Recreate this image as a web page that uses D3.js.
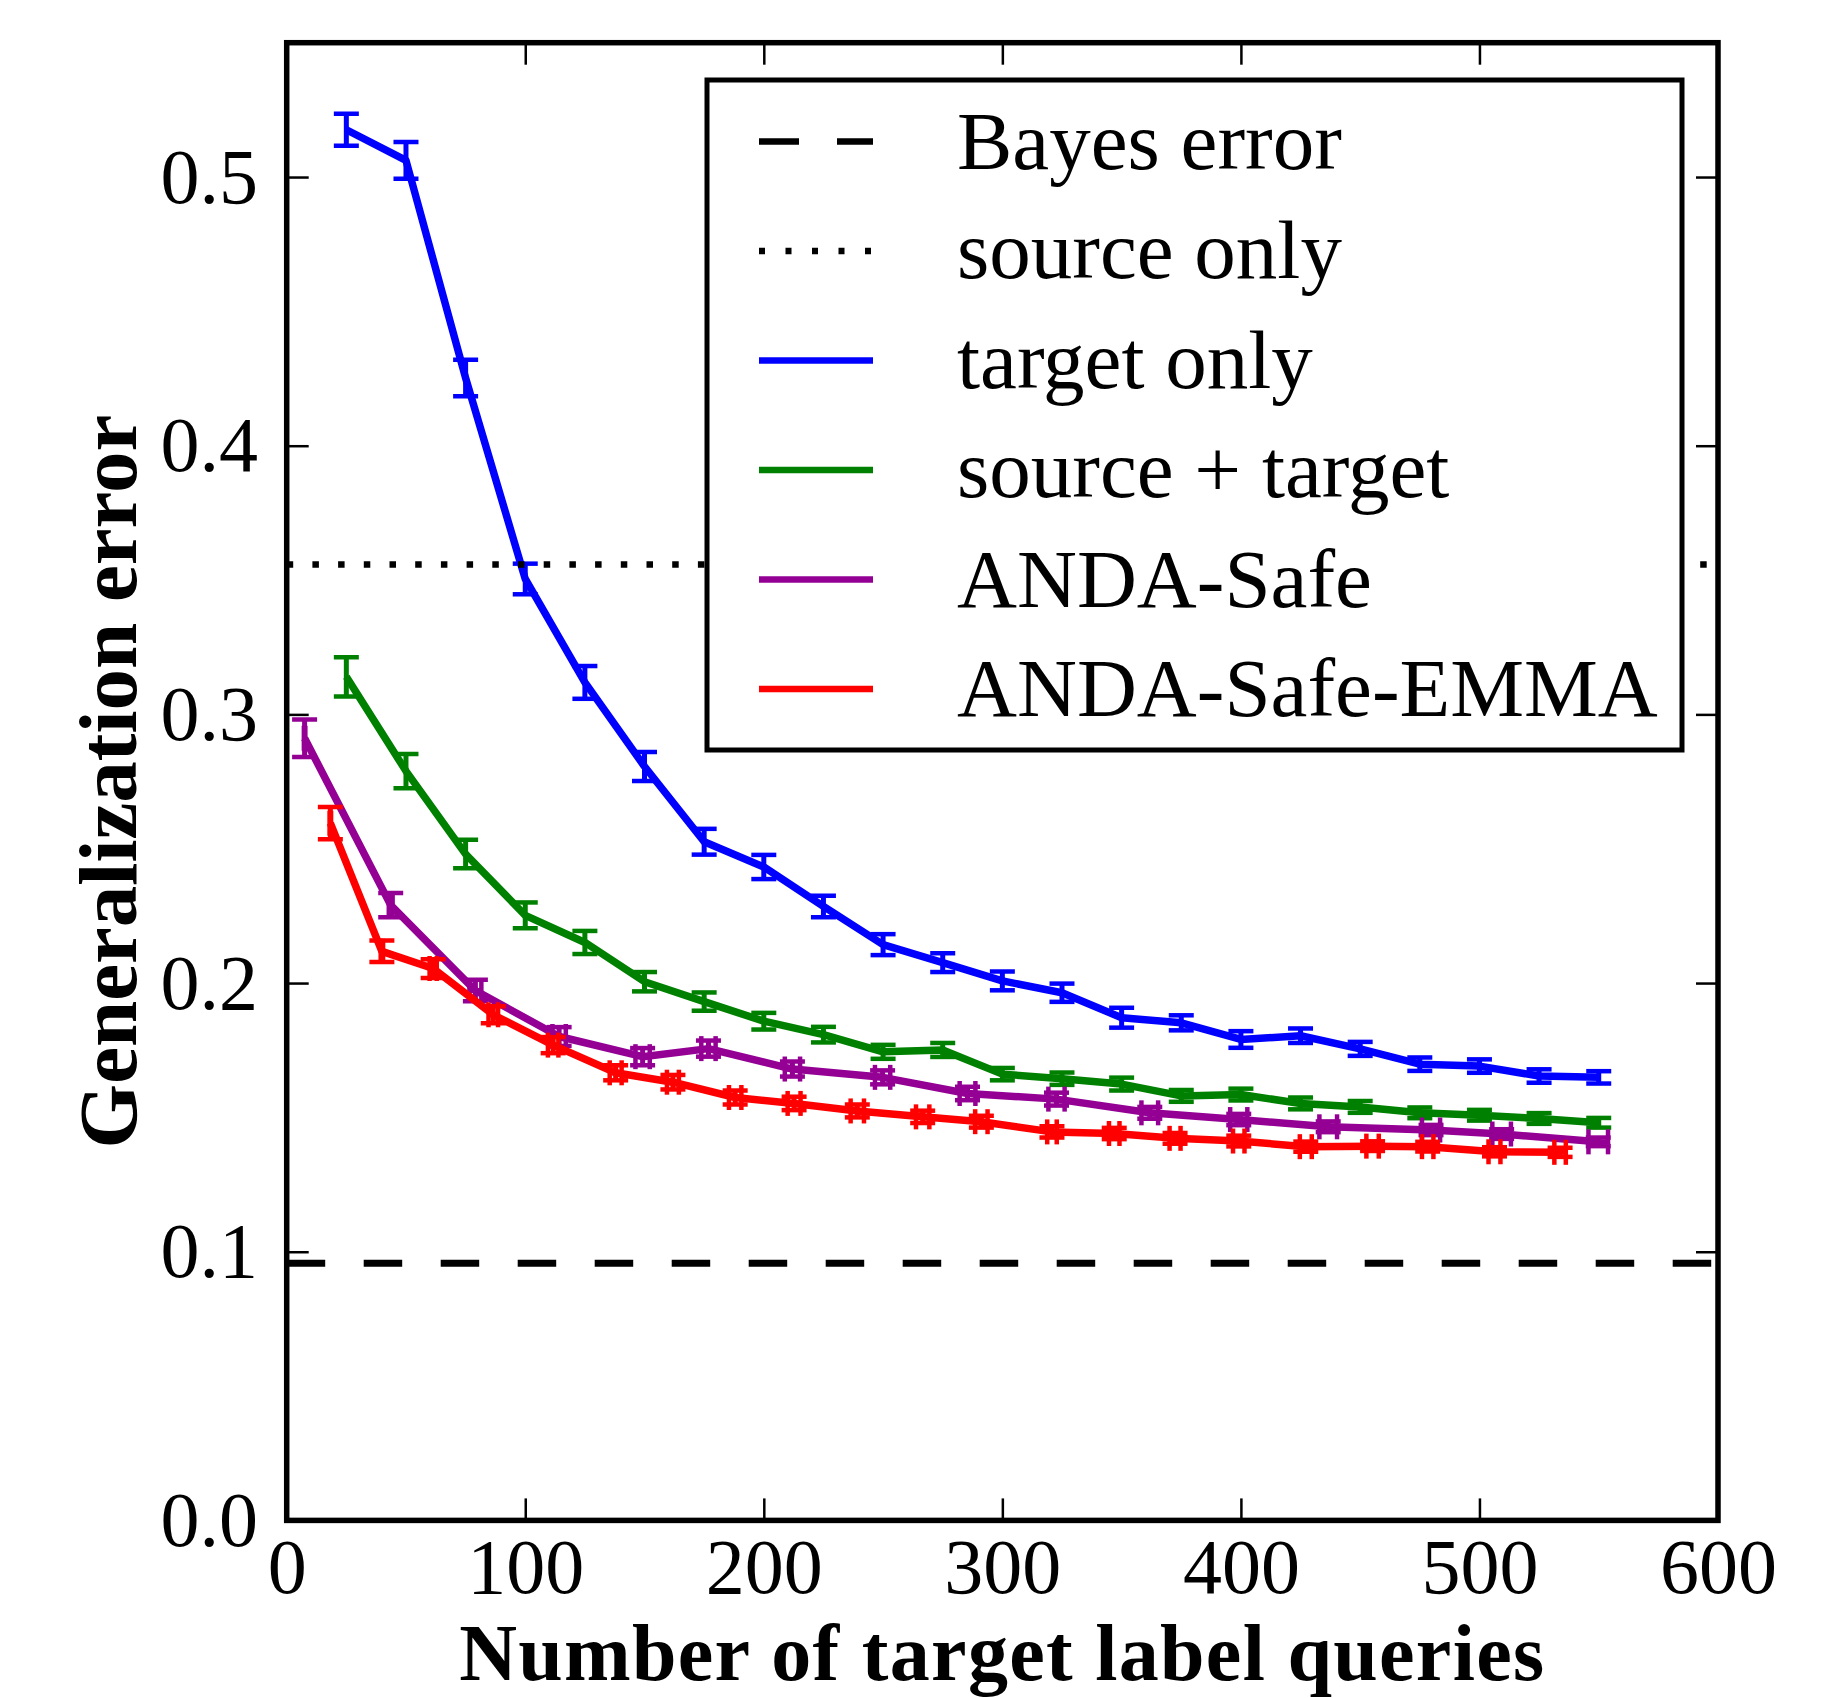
<!DOCTYPE html>
<html>
<head>
<meta charset="utf-8">
<script src="https://cdn.jsdelivr.net/npm/d3@7"></script>
<style>
  body { margin: 0; background: #fff; }
  text { font-family: "Liberation Serif", "DejaVu Serif", serif; fill: #000; }
</style>
</head>
<body>
<script>
// ---- data ----
var targetX   = [25,50,75,100,125,150,175,200,225,250,275,300,325,350,375,400,425,450,475,500,525,550];
var targetY   = [0.5176,0.5062,0.4252,0.3504,0.3119,0.2806,0.2526,0.2432,0.2285,0.2143,0.2076,0.2008,0.1964,0.1871,0.1852,0.1790,0.1804,0.1755,0.1698,0.1691,0.1654,0.1649];
var targetErr = [0.0060,0.0068,0.0068,0.0057,0.0061,0.0054,0.0048,0.0045,0.0040,0.0039,0.0035,0.0035,0.0034,0.0037,0.0028,0.0031,0.0027,0.0026,0.0025,0.0025,0.0025,0.0023];

var comboX   = [25,50,75,100,125,150,175,200,225,250,275,300,325,350,375,400,425,450,475,500,525,550];
var comboY   = [0.3140,0.2789,0.2480,0.2252,0.2151,0.2005,0.1931,0.1858,0.1808,0.1744,0.1751,0.1661,0.1644,0.1624,0.1580,0.1585,0.1552,0.1539,0.1517,0.1508,0.1496,0.1480];
var comboErr = [0.0073,0.0064,0.0053,0.0048,0.0043,0.0036,0.0034,0.0031,0.0029,0.0026,0.0026,0.0023,0.0023,0.0024,0.0022,0.0022,0.0022,0.0022,0.0020,0.0020,0.0020,0.0018];

var safeX    = [7.5,43.6,79.1,114.2,149.2,176.8,212.0,249.8,285.4,322.7,361.8,399.1,436.6,479.7,509.3,549.8];
var safeY    = [0.2911,0.2290,0.1972,0.1801,0.1726,0.1756,0.1680,0.1649,0.1589,0.1568,0.1517,0.1492,0.1465,0.1453,0.1438,0.1409];
var safeXErr = [0.3,0.8,2.5,2.8,3.0,3.0,3.2,3.2,3.3,3.4,3.5,3.6,3.7,3.8,3.9,4.1];
var safeYErr = [0.0070,0.0045,0.0040,0.0035,0.0032,0.0030,0.0028,0.0026,0.0025,0.0024,0.0022,0.0021,0.0020,0.0019,0.0018,0.0016];

var emmaX    = [18.3,39.9,61.4,86.6,111.7,137.9,161.9,188.0,212.7,239.2,266.6,291.2,320.8,346.9,372.4,399.1,427.2,455.2,478.3,506.3,533.8];
var emmaY    = [0.2595,0.2118,0.2054,0.1882,0.1769,0.1666,0.1631,0.1574,0.1552,0.1524,0.1502,0.1484,0.1446,0.1440,0.1422,0.1412,0.1391,0.1393,0.1391,0.1372,0.1370];
var emmaXErr = [0.3,0.5,1.5,2.0,2.2,2.5,2.5,2.6,2.7,2.8,2.8,2.6,2.0,2.2,2.3,2.4,2.5,2.6,2.4,2.5,2.4];
var emmaYErr = [0.0060,0.0040,0.0035,0.0032,0.0030,0.0028,0.0027,0.0026,0.0025,0.0024,0.0023,0.0022,0.0021,0.0021,0.0020,0.0020,0.0019,0.0018,0.0018,0.0017,0.0017];

var bayesError = 0.0957;
var sourceOnly = 0.3558;

var xTicks = [0,100,200,300,400,500,600];
var yTicks = [0.0,0.1,0.2,0.3,0.4,0.5];

var legendLabels = ["Bayes error","source only","target only","source + target","ANDA-Safe","ANDA-Safe-EMMA"];
var legendColors = ["#000","#000","#0000ff","#008000","#940094","#ff0000"];
var legendDash   = ["40,38","6,20.5",null,null,null,null];

// ---- layout ----
var width = 1838, height = 1698;
var plotL = 286.7, plotR = 1718, plotT = 42.7, plotB = 1520.4;

var svg = d3.select("body").append("svg")
  .attr("width", width).attr("height", height);

var x = d3.scaleLinear().domain([0, 600]).range([plotL, plotR]);
var y = d3.scaleLinear().domain([0, 0.55]).range([plotB, plotT]);

svg.append("clipPath").attr("id", "plotclip")
  .append("rect").attr("x", plotL).attr("y", plotT)
  .attr("width", plotR - plotL).attr("height", plotB - plotT);

var plot = svg.append("g").attr("clip-path", "url(#plotclip)");

// series
function makeSeries(xs, ys, yerr, xerr, color) {
  return xs.map(function(v, i) {
    return { x: v, y: ys[i], ye: yerr[i], xe: xerr ? xerr[i] : 0, color: color };
  });
}
var series = [
  makeSeries(targetX, targetY, targetErr, null, legendColors[2]),
  makeSeries(comboX, comboY, comboErr, null, legendColors[3]),
  makeSeries(safeX, safeY, safeYErr, safeXErr, legendColors[4]),
  makeSeries(emmaX, emmaY, emmaYErr, emmaXErr, legendColors[5])
];

var line = d3.line().x(function(d) { return x(d.x); }).y(function(d) { return y(d.y); });
var cap = 12.5;

series.forEach(function(s) {
  var g = plot.append("g");
  var col = s[0].color;
  g.append("path").datum(s)
    .attr("d", line)
    .attr("fill", "none")
    .attr("stroke", col)
    .attr("stroke-width", 7.5)
    .attr("stroke-linejoin", "round");

  var bars = g.selectAll(".bar").data(s).enter().append("g");
  // vertical error bar + caps
  bars.append("line")
    .attr("x1", function(d) { return x(d.x); }).attr("x2", function(d) { return x(d.x); })
    .attr("y1", function(d) { return y(d.y - d.ye); }).attr("y2", function(d) { return y(d.y + d.ye); })
    .attr("stroke", col).attr("stroke-width", 5);
  [-1, 1].forEach(function(sg) {
    bars.append("line")
      .attr("x1", function(d) { return x(d.x) - cap; }).attr("x2", function(d) { return x(d.x) + cap; })
      .attr("y1", function(d) { return y(d.y + sg * d.ye); }).attr("y2", function(d) { return y(d.y + sg * d.ye); })
      .attr("stroke", col).attr("stroke-width", 4.5);
  });
  // horizontal error bar + caps where present
  var xb = bars.filter(function(d) { return d.xe > 0; });
  xb.append("line")
    .attr("x1", function(d) { return x(d.x - d.xe); }).attr("x2", function(d) { return x(d.x + d.xe); })
    .attr("y1", function(d) { return y(d.y); }).attr("y2", function(d) { return y(d.y); })
    .attr("stroke", col).attr("stroke-width", 5);
  [-1, 1].forEach(function(sg) {
    xb.append("line")
      .attr("x1", function(d) { return x(d.x + sg * d.xe); }).attr("x2", function(d) { return x(d.x + sg * d.xe); })
      .attr("y1", function(d) { return y(d.y) - cap; }).attr("y2", function(d) { return y(d.y) + cap; })
      .attr("stroke", col).attr("stroke-width", 4.5);
  });
});

// reference lines
plot.append("line")
  .attr("x1", x(0)).attr("x2", x(600))
  .attr("y1", y(bayesError)).attr("y2", y(bayesError))
  .attr("stroke", "#000").attr("stroke-width", 7)
  .attr("stroke-dasharray", "38.5,38.5");

plot.append("line")
  .attr("x1", x(0)).attr("x2", x(600))
  .attr("y1", y(sourceOnly)).attr("y2", y(sourceOnly))
  .attr("stroke", "#000").attr("stroke-width", 6.5)
  .attr("stroke-dasharray", "6.5,19.2");

// ---- axes ----
var tickLen = 22;
var gx = svg.append("g").attr("transform", "translate(0," + plotB + ")")
  .call(d3.axisBottom(x).tickValues(xTicks).tickSize(-tickLen).tickPadding(17).tickFormat(d3.format("d")));
var gy = svg.append("g").attr("transform", "translate(" + plotL + ",0)")
  .call(d3.axisLeft(y).tickValues(yTicks).tickSize(-tickLen).tickPadding(28.7).tickFormat(d3.format(".1f")));
var gt = svg.append("g").attr("transform", "translate(0," + plotT + ")")
  .call(d3.axisTop(x).tickValues(xTicks).tickSize(-tickLen).tickFormat(""));
var gr = svg.append("g").attr("transform", "translate(" + plotR + ",0)")
  .call(d3.axisRight(y).tickValues(yTicks).tickSize(-tickLen).tickFormat(""));

[gx, gy, gt, gr].forEach(function(g) {
  g.select(".domain").remove();
  g.selectAll(".tick line").attr("stroke", "#000").attr("stroke-width", 2.5);
  g.selectAll(".tick text")
    .style("font-family", '"Liberation Serif", serif')
    .attr("font-size", 78).attr("fill", "#000");
});

// frame
svg.append("rect")
  .attr("x", plotL).attr("y", plotT)
  .attr("width", plotR - plotL).attr("height", plotB - plotT)
  .attr("fill", "none").attr("stroke", "#000").attr("stroke-width", 5.5);

// axis labels
svg.append("text")
  .attr("x", (plotL + plotR) / 2).attr("y", 1680)
  .attr("text-anchor", "middle")
  .attr("font-size", 80).attr("font-weight", "bold")
  .attr("letter-spacing", 1.3)
  .text("Number of target label queries");

svg.append("text")
  .attr("transform", "translate(136," + ((plotT + plotB) / 2) + ") rotate(-90)")
  .attr("text-anchor", "middle")
  .attr("font-size", 83).attr("font-weight", "bold")
  .text("Generalization error");

// ---- legend ----
var leg = svg.append("g");
leg.append("rect")
  .attr("x", 707).attr("y", 80).attr("width", 975).attr("height", 670)
  .attr("fill", "#fff").attr("stroke", "#000").attr("stroke-width", 5);

legendLabels.forEach(function(lab, i) {
  var cy = 141.5 + i * 109.5;
  var l = leg.append("line")
    .attr("x1", 759).attr("x2", 873).attr("y1", cy).attr("y2", cy)
    .attr("stroke", legendColors[i]).attr("stroke-width", 6.5);
  if (legendDash[i]) l.attr("stroke-dasharray", legendDash[i]);
  leg.append("text")
    .attr("x", 957).attr("y", cy + 27)
    .attr("font-size", 83)
    .text(lab);
});
</script>
</body>
</html>
